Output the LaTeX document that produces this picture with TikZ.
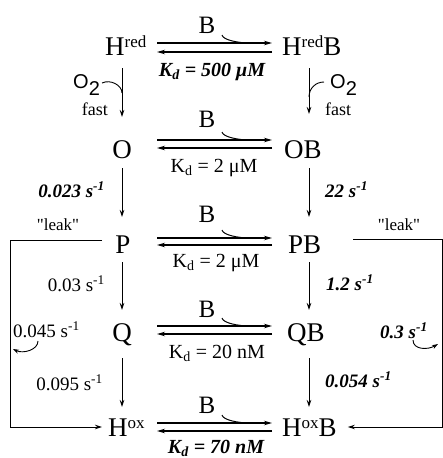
\documentclass[tikz,border=0pt]{standalone}
\usepackage{fontspec}
\setmainfont{Liberation Serif}
\newfontfamily\sansO{Liberation Sans}
\usetikzlibrary{arrows.meta,calc}
\newcommand{\sus}[1]{\raisebox{8pt}{\fontsize{17}{17}\selectfont #1}}
\begin{document}
\begin{tikzpicture}[x=1pt,y=-1pt,
  sp/.style={inner sep=0pt, font=\fontsize{27}{30}\selectfont},
  bl/.style={inner sep=0pt, font=\fontsize{25}{28}\selectfont, anchor=base},
  kd/.style={inner sep=0pt, font=\fontsize{20}{24}\selectfont, anchor=base},
  kdb/.style={kd, font=\fontsize{20}{24}\selectfont\bfseries\itshape},
  rate/.style={inner sep=0pt, font=\fontsize{19}{22}\selectfont},
  rateb/.style={rate, font=\fontsize{19}{22}\selectfont\bfseries\itshape},
  small/.style={inner sep=0pt, font=\fontsize{18}{20}\selectfont, anchor=base},
  leak/.style={inner sep=0pt, font=\fontsize{17}{20}\selectfont, anchor=base},
  oxy/.style={inner sep=0pt, font=\fontsize{20}{22}\selectfont\sansO, anchor=base},
  harr/.style={line width=1.1pt, -{Stealth[length=8pt,width=4.5pt]}},
  varr/.style={line width=0.9pt, -{Stealth[length=7pt,width=4.5pt]}},
  carr/.style={line width=0.9pt, -{Stealth[length=6pt,width=4pt]}},
  thin/.style={line width=0.9pt},
  hook/.style={line width=1pt},
]
\useasboundingbox (0,0) rectangle (443,458);
% helper x positions
\coordinate (xa) at (157,0);
\coordinate (xb) at (272,0);
\coordinate (xh) at (222,0);
\coordinate (xe) at (250,0);
\coordinate (cl) at (122,0);
\coordinate (cr) at (309,0);
\coordinate (lw) at (10,0);
\coordinate (le) at (442,0);
% species
\node[sp, anchor=base west] (hr) at (105,55) {H\sus{red}};
\node[sp, anchor=base west] (hrb) at (282,55) {H\sus{red}B};
\node[sp, anchor=base] (o) at (122,158) {O};
\node[sp, anchor=base west] (ob) at (284,158) {OB};
\node[sp, anchor=base] (p) at (123,253) {P};
\node[sp, anchor=base west] (pb) at (288,253) {PB};
\node[sp, anchor=base] (q) at (122,341) {Q};
\node[sp, anchor=base west] (qb) at (287,341) {QB};
\node[sp, anchor=base west] (hox) at (108,436) {H\sus{ox}};
\node[sp, anchor=base west] (hoxb) at (282,436) {H\sus{ox}B};
% B labels
\node[bl] (b1) at (207,33) {B};
\node[bl] (b2) at (207,127) {B};
\node[bl] (b3) at (207,222) {B};
\node[bl] (b4) at (207,317) {B};
\node[bl] (b5) at (207,413) {B};
% Kd labels
\node[kdb] (k1) at (212,76) {K\textsubscript{d} = 500 μM};
\node[kd] (k2) at (214,172) {K\textsubscript{d} = 2 μM};
\node[kd] (k3) at (216,267) {K\textsubscript{d} = 2 μM};
\node[kd] (k4) at (217,358) {K\textsubscript{d} = 20 nM};
\node[kdb] (k5) at (216,453) {K\textsubscript{d} = 70 nM};
% horizontal equilibria
\foreach \l/\r/\t/\u in {hr/hrb/-12/-3, o/ob/-18/-10, p/pb/-15/-8, q/qb/-15/-7, hox/hoxb/-13/-5}{
  \draw[harr] ($(\l.base -| xa)+(0,\t)$) -- ($(\r.base -| xb)+(0,\t)$);
  \draw[harr] ($(\r.base -| xb)+(0,\u)$) -- ($(\l.base -| xa)+(0,\u)$);
  \draw[hook] ($(\l.base -| xh)+(0,\t-8)$) .. controls +(1,5) and +(-12,0) .. ($(\l.base -| xe)+(0,\t)$);
}
% vertical arrows
\draw[varr] ($(hr.base -| cl)+(0,13)$) -- ($(o.base -| cl)+(0,-41)$);
\draw[varr] ($(hrb.base -| cr)+(0,13)$) -- ($(ob.base -| cr)+(0,-44)$);
\draw[varr] ($(o.base -| cl)+(0,10)$) -- ($(p.base -| cl)+(0,-36)$);
\draw[varr] ($(ob.base -| cr)+(0,10)$) -- ($(pb.base -| cr)+(0,-36)$);
\draw[varr] ($(p.base -| cl)+(0,9)$) -- ($(q.base -| cl)+(0,-31)$);
\draw[varr] ($(pb.base -| cr)+(0,9)$) -- ($(qb.base -| cr)+(0,-31)$);
\draw[varr] ($(q.base -| cl)+(0,17)$) -- ($(hox.base -| cl)+(0,-29)$);
\draw[varr] ($(qb.base -| cr)+(0,17)$) -- ($(hoxb.base -| cr)+(0,-29)$);
% O2 labels
\node[oxy, anchor=base west] (o2l) at (73,88) {O\raisebox{-7pt}{2}};
\node[oxy, anchor=base west] (o2r) at (330,88) {O\raisebox{-7pt}{2}};
\node[small, anchor=base east] (fl) at (108,115) {fast};
\node[small, anchor=base west] (fr) at (325,115) {fast};
\draw[thin] ($(o2l.base east)+(2,-5)$) .. controls +(8,-4) and +(0,-8) .. ($(hr.base -| cl)+(0,38)$);
\draw[thin] ($(hrb.base -| cr)+(0,42)$) .. controls +(0,-9) and +(-8,0) .. ($(o2r.base west)+(-6,-6)$);
% leaks
\node[leak] (lk1) at (58,230) {\textquotedbl leak\textquotedbl};
\node[leak] (lk2) at (399,230) {\textquotedbl leak\textquotedbl};
\draw[varr] ($(p.base)+(-21,-13)$) -- ($(p.base -| lw)+(0,-13)$) |- ($(hox.base west)+(-6,-9)$);
\draw[varr] ($(pb.base east)+(32,-14)$) -- ($(pb.base -| le)+(0,-14)$) |- ($(hoxb.base east)+(11,-9)$);
% rates
\node[rateb, anchor=base east] (r1) at (105,197) {0.023 s\textsuperscript{-1}};
\node[rateb, anchor=base west] (r2) at (325,197) {22 s\textsuperscript{-1}};
\node[rate, anchor=base east] (r3) at (105,291) {0.03 s\textsuperscript{-1}};
\node[rateb, anchor=base west] (r4) at (326,290) {1.2 s\textsuperscript{-1}};
\node[rate, anchor=base east] (r5) at (103,390) {0.095 s\textsuperscript{-1}};
\node[rateb, anchor=base west] (r6) at (325,387) {0.054 s\textsuperscript{-1}};
\node[rate, anchor=base west] (r7) at (13,337) {0.045 s\textsuperscript{-1}};
\node[rateb, anchor=base west] (r8) at (380,338) {0.3 s\textsuperscript{-1}};
\draw[carr] ($(r7.base west)+(25,4)$) .. controls +(0,9) and +(10,5) .. ($(r7.base west)+(0,12)$);
\draw[carr] ($(r8.base west)+(33,2)$) .. controls +(0,10) and +(-10,6) .. ($(r8.base west)+(58,6)$);
\end{tikzpicture}
\end{document}
